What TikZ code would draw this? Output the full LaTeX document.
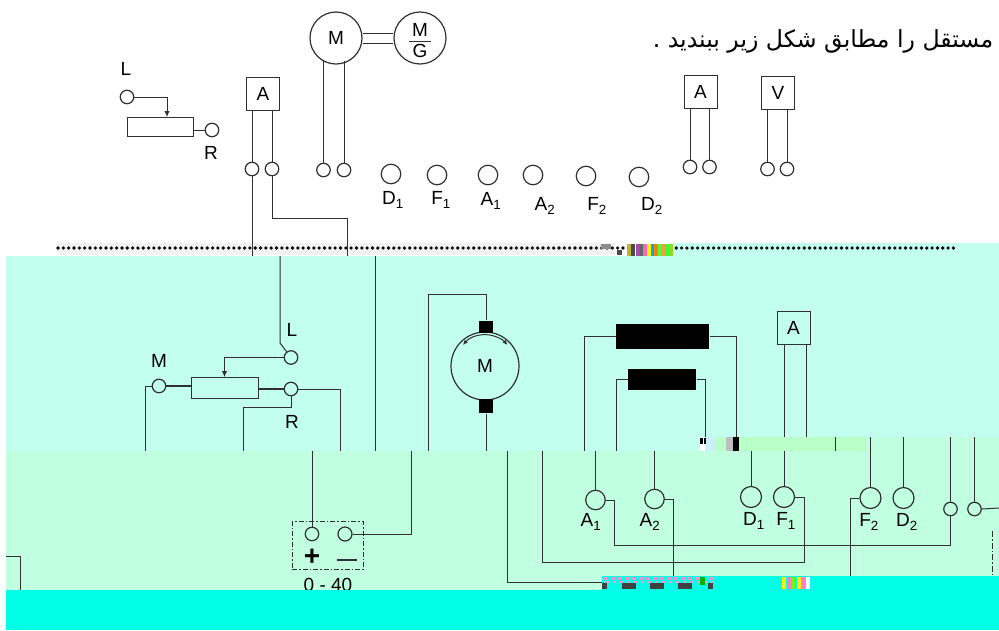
\documentclass[tikz,border=0pt]{standalone}
\usepackage{fontspec}
\usetikzlibrary{arrows.meta}
\setmainfont{Liberation Sans}
\newfontfamily\arabicfont[Script=Arabic]{DejaVu Sans}
\TeXXeTstate=1
\definecolor{wire}{HTML}{303030}
\definecolor{upperbg}{HTML}{C2FFEE}
\definecolor{lowerbg}{HTML}{C0FFE0}
\definecolor{bandbg}{HTML}{B8FFC8}
\definecolor{floorbg}{HTML}{00FFE6}

\begin{document}
\begin{tikzpicture}[x=1pt,y=-1pt,line width=1pt,>={Latex[length=6pt,width=5.5pt]},
        wirepath/.style={draw=wire,line width=1pt},
        term/.style={circle,draw=wire,line width=1.2pt,inner sep=0pt,minimum size=13.5pt},
        lug/.style={circle,draw=wire,line width=1.2pt,inner sep=0pt,minimum size=19.5pt},
        meter/.style={rectangle,draw=wire,line width=1pt,inner sep=0pt,minimum size=33pt,font=\fontsize{19}{19}\selectfont},
        lbl/.style={inner sep=0pt,font=\fontsize{19}{19}\selectfont}]
    \useasboundingbox (0,0) rectangle (999,630);

    \fill[upperbg] (6,256) rectangle (999,451);
    \fill[upperbg] (672,243) rectangle (999,256);
    \fill[lowerbg] (6,451) rectangle (999,590);
    \fill[lowerbg] (866,437) rectangle (999,451);
    \fill[bandbg] (700,437) rectangle (866,451);
    \fill[black!5] (58,243) rectangle (615,255);

    \node[lbl,font=\fontsize{23.6}{23.6}\arabicfont] (title) at (823,41) {\beginR مستقل را مطابق شکل زیر ببندید .\endR};

    \coordinate (dotL) at (58,248);
    \coordinate (dotR) at (958,248);
    \draw[line width=3.6pt,line cap=round,dash pattern=on 0pt off 5.33pt] (dotL) -- (dotR);

    % top row of the panel
    \node[term] (tL) at (127,97) {};
    \node[lbl] (tLt) at (126,69) {L};
    \node[rectangle,draw=wire,minimum width=66pt,minimum height=19pt,inner sep=0pt] (rheoA) at (160,127) {};
    \node[term] (tR) at (212,130) {};
    \node[lbl] (tRt) at (211,153) {R};
    \coordinate (rheoAin) at (167,117);
    \draw[wirepath,->] (tL.east) -| (rheoAin);
    \draw[wirepath] (tR.west) -- (tR.west -| rheoA.east);

    \node[meter] (mA) at (263,93.5) {A};
    \node[term] (mAa) at (252,169) {};
    \node[term] (mAb) at (272,169) {};
    \draw[wirepath] (mAa |- mA.south) -- (mAa.north);
    \draw[wirepath] (mAb |- mA.south) -- (mAb.north);
    \coordinate (aDown) at (252,256);
    \coordinate (bDown) at (347,256);
    \coordinate (bBend) at (272,218);
    \draw[wirepath] (mAa.south) -- (aDown);
    \draw[wirepath] (mAb.south) -- (bBend) -| (bDown);

    \node[circle,draw=wire,line width=1.2pt,minimum size=52pt,inner sep=0pt,font=\fontsize{19}{19}\selectfont] (motTop) at (336,38) {M};
    \node[circle,draw=wire,line width=1.2pt,minimum size=52pt,inner sep=0pt] (genTop) at (420,38) {};
    \node[lbl] (genM) at (420,29.5) {M};
    \node[lbl] (genG) at (420,51) {G};
    \coordinate (genBarL) at (409,41);
    \coordinate (genBarR) at (431,41);
    \draw[wirepath] (genBarL) -- (genBarR);
    \draw[wirepath] ([yshift=-5pt]motTop.east) -- ([yshift=-5pt]genTop.west);
    \draw[wirepath] ([yshift=5pt]motTop.east) -- ([yshift=5pt]genTop.west);
    \node[term] (mTa) at (323.5,170) {};
    \node[term] (mTb) at (344,170) {};
    \coordinate (mTaUp) at (323.5,60);
    \coordinate (mTbUp) at (344,61);
    \draw[wirepath] (mTaUp) -- (mTa.north);
    \draw[wirepath] (mTbUp) -- (mTb.north);

    \foreach \nm/\px/\py/\tx/\ty/\lab in {D/391/174/393/200/{D\textsubscript{1}},F/437/175/441/200/{F\textsubscript{1}},
            A/488/175/491/201/{A\textsubscript{1}},B/533/175/545/206/{A\textsubscript{2}},
            G/586/176/597/206/{F\textsubscript{2}},E/639/177/652/206/{D\textsubscript{2}}} {
        \node[lug] (top\nm) at (\px,\py) {};
        \node[lbl] (top\nm t) at (\tx,\ty) {\lab};
    }

    \node[meter] (mB) at (700.5,92) {A};
    \node[term] (mBa) at (690,167) {};
    \node[term] (mBb) at (709.5,167) {};
    \draw[wirepath] (mBa |- mB.south) -- (mBa.north);
    \draw[wirepath] (mBb |- mB.south) -- (mBb.north);
    \node[meter] (mV) at (778,92.5) {V};
    \node[term] (mVa) at (767.5,169) {};
    \node[term] (mVb) at (787,169) {};
    \draw[wirepath] (mVa |- mV.south) -- (mVa.north);
    \draw[wirepath] (mVb |- mV.south) -- (mVb.north);

    % rheostat on the board
    \coordinate (lTop) at (280,256);
    \coordinate (lBend) at (280,343);
    \node[term] (bL) at (291,357.5) {};
    \node[lbl] (bLt) at (292,330) {L};
    \draw[wirepath] (lTop) -- (lBend) -- (bL);
    \node[rectangle,draw=wire,minimum width=67pt,minimum height=21pt,inner sep=0pt] (rheoB) at (224.5,387.5) {};
    \coordinate (rheoBin) at (224.5,377);
    \draw[wirepath,->] (bL.west) -| (rheoBin);
    \node[term] (bM) at (159,386) {};
    \node[lbl] (bMt) at (159,361) {M};
    \node[term] (bR) at (291,389) {};
    \node[lbl] (bRt) at (292,422) {R};
    \draw[wirepath,line width=1.6pt] (bM.east) -- (bM.east -| rheoB.west);
    \draw[wirepath,line width=1.6pt] (bR.west) -- (bR.west -| rheoB.east);
    \coordinate (bMdown) at (145.5,451);
    \coordinate (bRdown) at (243.5,451);
    \coordinate (bRbend) at (291,407.5);
    \coordinate (bRout) at (340,451);
    \draw[wirepath] (bM.west) -| (bMdown);
    \draw[wirepath] (bR.south) -- (bRbend) -| (bRdown);
    \draw[wirepath] (bR.east) -| (bRout);
    \coordinate (midTop) at (375,256);
    \coordinate (midBot) at (375,451);
    \draw[wirepath] (midTop) -- (midBot);

    % armature
    \node[circle,draw=wire,line width=1.2pt,minimum size=68pt,inner sep=0pt,font=\fontsize{19}{19}\selectfont] (arm) at (485,366) {M};
    \node[rectangle,fill=black,minimum width=14pt,minimum height=12pt,inner sep=0pt] (brushT) at (486,326.5) {};
    \node[rectangle,fill=black,minimum width=14pt,minimum height=14pt,inner sep=0pt] (brushB) at (486,406) {};
    \draw[wirepath,<->,>={Latex[length=5pt,width=4.5pt]}] (463,345) arc[start angle=220,end angle=320,radius=29];
    \coordinate (armLeft) at (428,451);
    \coordinate (armBot) at (486,451);
    \draw[wirepath] (brushT.north) |- (armLeft |- 0,294) -- (armLeft);
    \draw[wirepath] (brushB.south) -- (armBot);

    % field windings
    \node[rectangle,fill=black,minimum width=93pt,minimum height=25pt,inner sep=0pt] (fieldA) at (662.5,336.5) {};
    \node[rectangle,fill=black,minimum width=68pt,minimum height=21pt,inner sep=0pt] (fieldB) at (662,379.5) {};
    \coordinate (fAl) at (584,451);
    \coordinate (fAr) at (736.5,437);
    \coordinate (fBl) at (616.5,451);
    \coordinate (fBr) at (705,437);
    \draw[wirepath] (fieldA.west) -| (fAl);
    \draw[wirepath] (fieldA.east) -| (fAr);
    \draw[wirepath] (fieldB.west) -| (fBl);
    \draw[wirepath] (fieldB.east) -| (fBr);
    \node[meter] (mC) at (793.5,328) {A};
    \coordinate (mCa) at (784,437);
    \coordinate (mCb) at (806.5,437);
    \draw[wirepath] (mCa |- mC.south) -- (mCa);
    \draw[wirepath] (mCb |- mC.south) -- (mCb);

    % lower terminals
    \node[lug] (lA) at (595.5,500) {};
    \node[lbl] (lAt) at (591,522) {A\textsubscript{1}};
    \node[lug] (lB) at (654.5,499) {};
    \node[lbl] (lBt) at (650,522) {A\textsubscript{2}};
    \node[lug,minimum size=21pt] (lD) at (751,497) {};
    \node[lbl] (lDt) at (754,521) {D\textsubscript{1}};
    \node[lug,minimum size=21pt] (lF) at (784,497) {};
    \node[lbl] (lFt) at (786,521) {F\textsubscript{1}};
    \node[lug,minimum size=21pt] (lG) at (870.5,498) {};
    \node[lbl] (lGt) at (869,522) {F\textsubscript{2}};
    \node[lug,minimum size=21pt] (lE) at (903.5,498) {};
    \node[lbl] (lEt) at (907,522) {D\textsubscript{2}};
    \node[term] (lP) at (950.5,509) {};
    \node[term] (lQ) at (974.5,509) {};

    \foreach \nd/\yt in {lA/451,lB/451,lD/451,lF/451,lG/437,lE/437,lP/437,lQ/437} {
        \coordinate (\nd up) at (\nd |- 0,\yt);
        \draw[wirepath] (\nd up) -- (\nd.north);
    }
    \coordinate (bandTick) at (835.5,437);
    \coordinate (bandTickB) at (835.5,451);
    \draw[wirepath] (bandTick) -- (bandTickB);

    \coordinate (aBend) at (614,545);
    \coordinate (bOut) at (673,576);
    \coordinate (gOut) at (850,576);
    \coordinate (qOut) at (999,508);
    \draw[wirepath] (lA.east) -| (aBend) -| (lP.south);
    \draw[wirepath] (lB.east) -| (bOut);
    \draw[wirepath] (lG.west) -| (gOut);
    \draw[wirepath] (lQ.east) -- (qOut);

    \coordinate (fRet) at (542,451);
    \coordinate (fRetB) at (542,562.5);
    \coordinate (fRetC) at (804,562.5);
    \draw[wirepath] (fRet) -- (fRetB) -- (fRetC) |- (lF.east);
    \coordinate (backTop) at (507,451);
    \coordinate (backB) at (507,582);
    \coordinate (backC) at (602,582);
    \draw[wirepath] (backTop) -- (backB) -- (backC);

    % supply box
    \node[term] (sPlus) at (312,534) {};
    \node[term,minimum size=14pt] (sMinus) at (345,534) {};
    \node[rectangle,draw=wire,dash pattern=on 5pt off 2pt on 1.5pt off 2pt,minimum width=71pt,minimum height=48pt,inner sep=0pt] (supply) at (327.5,545.5) {};
    \node[lbl,font=\fontsize{28}{28}\bfseries\selectfont] (sPlusT) at (312,557) {+};
    \coordinate (sMinA) at (337,559.5);
    \coordinate (sMinB) at (357,559.5);
    \draw[line width=2pt,wire] (sMinA) -- (sMinB);
    \node[lbl] (sRange) at (328,584.5) {0 - 40};
    \coordinate (sPlusUp) at (312,451);
    \coordinate (sMinUp) at (411,451);
    \draw[wirepath] (sPlusUp) -- (sPlus.north);
    \draw[wirepath] (sMinUp) |- (sMinus.east);

    \coordinate (cornerA) at (6,556);
    \coordinate (cornerB) at (20.5,590);
    \draw[wirepath] (cornerA) -| (cornerB);
    \coordinate (rightDashA) at (992.5,531);
    \coordinate (rightDashB) at (992.5,576);
    \draw[wirepath,dash pattern=on 6pt off 2pt on 1.5pt off 2pt] (rightDashA) -- (rightDashB);

    \fill[floorbg] (6,590) rectangle (999,630);
    \fill[floorbg] (602,575.5) rectangle (999,590);

    % damaged parts of the scan
    \foreach \px/\pc in {627/yellow!70!black,631/black!70,636/violet!70,640/black!60,643/magenta!60,647/yellow,
            651/cyan,654/orange,658/green!70,661/orange!80,665/green!80,669/yellow!60!green} {
        \fill[\pc] (\px,244) rectangle ++(4,11.5);
    }
    \fill[black!70] (617,250) rectangle ++(5,5);
    \fill[black!45] (601,244) rectangle ++(10,5);
    \foreach \px in {604,611,...,709} {
        \fill[magenta!45] (\px,576.5) rectangle ++(4,3);
        \fill[white!60!magenta] (\px+2,581) rectangle ++(3,2);
    }
    \foreach \px/\pw in {602/5,622/14,650/14,678/14,708/5} {
        \fill[black!75] (\px,583) rectangle ++(\pw,6);
    }
    \fill[green!70!black] (700,577) rectangle ++(5,8);
    \foreach \px/\pc in {782/yellow,787/magenta!50,792/green!60!yellow,797/yellow,802/magenta!50,806/white} {
        \fill[\pc] (\px,577) rectangle ++(4,12);
    }
    \fill[white] (700,437) rectangle (705,451);
    \fill[cyan!20] (705,437) rectangle (715,451);
    \fill[black!25] (726,437) rectangle (733,451);
    \fill[black] (733,437) rectangle (739,451);
    \fill[black] (700,438) rectangle ++(3,6);
    \fill[black] (704,438) rectangle ++(2,6);
\end{tikzpicture}
\end{document}
